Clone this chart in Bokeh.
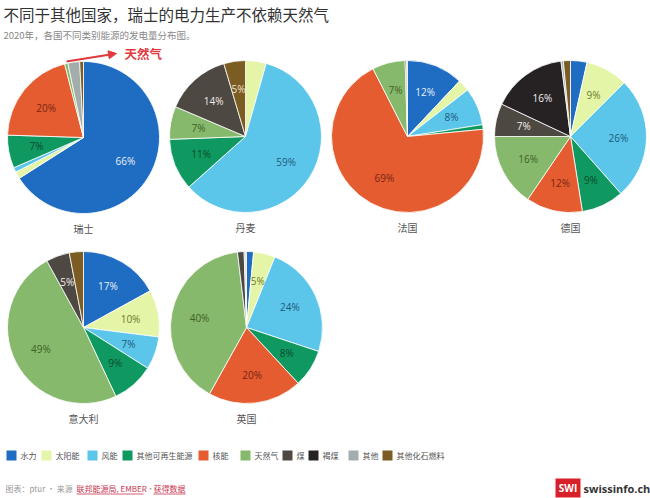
import math
from bokeh.plotting import figure
from bokeh.models import ColumnDataSource, Range1d, Arrow, NormalHead
from bokeh.core.properties import value
from bokeh.embed import file_html
from bokeh.resources import INLINE

# ---------------- data ----------------
countries = ["瑞士", "丹麦", "法国", "德国", "意大利", "英国"]
categories = ["水力", "太阳能", "风能", "其他可再生能源", "核能", "天然气", "煤", "褐煤", "其他", "其他化石燃料"]
hydro = [66, 0, 12, 3.5, 17, 1.5]
solar = [1.5, 4.4, 2.5, 9, 10, 4.6]
wind = [1.0, 59, 8, 26, 7, 24]
other_renew = [7, 11, 1, 9, 9, 8]
nuclear = [20.5, 0, 69, 12, 0, 20]
gas = [0.7, 7, 7, 15.5, 49, 40]
coal = [0, 14, 0.3, 7, 5, 1.4]
lignite = [0, 0, 0, 16, 0, 0]
other = [2.5, 0, 0, 0.5, 0, 0.3]
other_fossil = [0.8, 4.6, 0.2, 1.5, 3, 0.2]
series = [hydro, solar, wind, other_renew, nuclear, gas, coal, lignite, other, other_fossil]

title = "不同于其他国家，瑞士的电力生产不依赖天然气"
subtitle = "2020年，各国不同类别能源的发电量分布图。"
annotation = "天然气"

# ---------------- style / layout ----------------
W, H = 650, 498
colors = ["#1f6dc2", "#e4f5a8", "#5cc6ea", "#0f9960", "#e45c30", "#86b96b",
          "#4e4842", "#262223", "#a3aeac", "#7b5c23"]
label_colors = ["#e8eff8", "#6b7b2a", "#1d5a7a", "#0b4a2c", "#7a2410", "#3e6128",
                "#f0ece8", "#f0f0f0", "#333333", "#f0e4c8"]
pie_px = [83, 245, 407, 570, 83, 246]
pie_py = [137, 136, 136, 136, 327, 327]
legend_px = [6, 41, 87, 122, 198, 240, 282, 308, 348, 382]
R = 76
CJK = value("Noto Sans CJK SC")

p = figure(width=W, height=H, output_backend="svg", toolbar_location=None,
           x_range=Range1d(0, W), y_range=Range1d(0, H),
           x_axis_location=None, y_axis_location=None, min_border=0,
           background_fill_color="white", border_fill_color="white")
p.grid.visible = False
p.outline_line_color = None

cum = [0.0] * len(countries)
lab = dict(x=[], y=[], t=[], c=[])
for ci, vals in enumerate(series):
    src = dict(x=[], y=[], s=[], e=[])
    for k, v in enumerate(vals):
        total = sum(s[k] for s in series)
        f0 = cum[k] / total
        f1 = (cum[k] + v) / total
        cum[k] += v
        if v <= 0:
            continue
        cx, cy = pie_px[k], H - pie_py[k]
        src["x"].append(cx)
        src["y"].append(cy)
        src["s"].append(math.pi / 2 - 2 * math.pi * f1)
        src["e"].append(math.pi / 2 - 2 * math.pi * f0)
        if round(v) >= 5:
            mid = math.pi / 2 - 2 * math.pi * (f0 + f1) / 2
            lab["x"].append(cx + 0.63 * R * math.cos(mid))
            lab["y"].append(cy + 0.63 * R * math.sin(mid))
            lab["t"].append(f"{round(v)}%")
            lab["c"].append(label_colors[ci])
    p.wedge(x="x", y="y", radius=R, start_angle="s", end_angle="e",
            source=ColumnDataSource(src), fill_color=colors[ci],
            line_color="white", line_width=0.8)

p.text(x="x", y="y", text="t", text_color="c", source=ColumnDataSource(lab),
       text_font=value("Open Sans"), text_font_size="10px",
       text_align="center", text_baseline="middle")

# country names
p.text(x=pie_px, y=[H - py - 91 for py in pie_py], text=countries,
       text_font=CJK, text_font_size="10px", text_color="#555555",
       text_align="center", text_baseline="middle")

# title & subtitle
p.text(x=[3], y=[H - 13], text=[title], text_font=CJK, text_font_size="15.5px",
       text_color="#333333", text_baseline="middle")
p.text(x=[3], y=[H - 34], text=[subtitle], text_font=CJK, text_font_size="9.5px",
       text_color="#888888", text_baseline="middle")

# red annotation arrow
p.add_layout(Arrow(x_start=66, y_start=H - 61, x_end=116, y_end=H - 53,
                   line_color="#e03a3e", line_width=2.2,
                   end=NormalHead(size=8, fill_color="#e03a3e", line_color="#e03a3e")))
p.text(x=[124], y=[H - 53], text=[annotation], text_font=CJK, text_font_size="12.5px",
       text_color="#e03a3e", text_baseline="middle", text_font_style="bold")

# legend (manual)
LY = H - 455
p.rect(x=[lx + 5 for lx in legend_px], y=[LY] * len(categories), width=10, height=10,
       fill_color=colors, line_color=None)
p.text(x=[lx + 14 for lx in legend_px], y=[LY] * len(categories), text=categories,
       text_font=CJK, text_font_size="8px", text_color="#555555", text_baseline="middle")

# footer
FY = H - 488
p.text(x=[5], y=[FY], text=["图表：ptur • 来源"], text_font=CJK, text_font_size="8px",
       text_color="#999999", text_baseline="middle")
p.text(x=[76], y=[FY], text=["联邦能源局, EMBER"], text_font=CJK, text_font_size="8px",
       text_color="#c8354f", text_baseline="middle")
p.text(x=[146], y=[FY], text=["•"], text_font=CJK, text_font_size="8px",
       text_color="#999999", text_baseline="middle")
p.text(x=[153], y=[FY], text=["获得数据"], text_font=CJK, text_font_size="8px",
       text_color="#c8354f", text_baseline="middle")
p.segment(x0=[76, 153], y0=[FY - 5.5, FY - 5.5], x1=[143, 185], y1=[FY - 5.5, FY - 5.5],
          line_color="#c8354f", line_width=0.8)

# SWI logo
p.quad(left=[555], right=[580], bottom=[H - 497], top=[H - 478], fill_color="#d8202a", line_color=None)
p.text(x=[567.5], y=[H - 487.5], text=["SWI"], text_font=value("Open Sans"), text_font_size="10px",
       text_font_style="bold", text_color="white", text_align="center", text_baseline="middle")
p.text(x=[583], y=[H - 487.5], text=["swissinfo.ch"], text_font=value("Open Sans"), text_font_size="11px",
       text_font_style="bold", text_color="#333333", text_baseline="middle")

open("out.html", "w").write(file_html(p, INLINE))
